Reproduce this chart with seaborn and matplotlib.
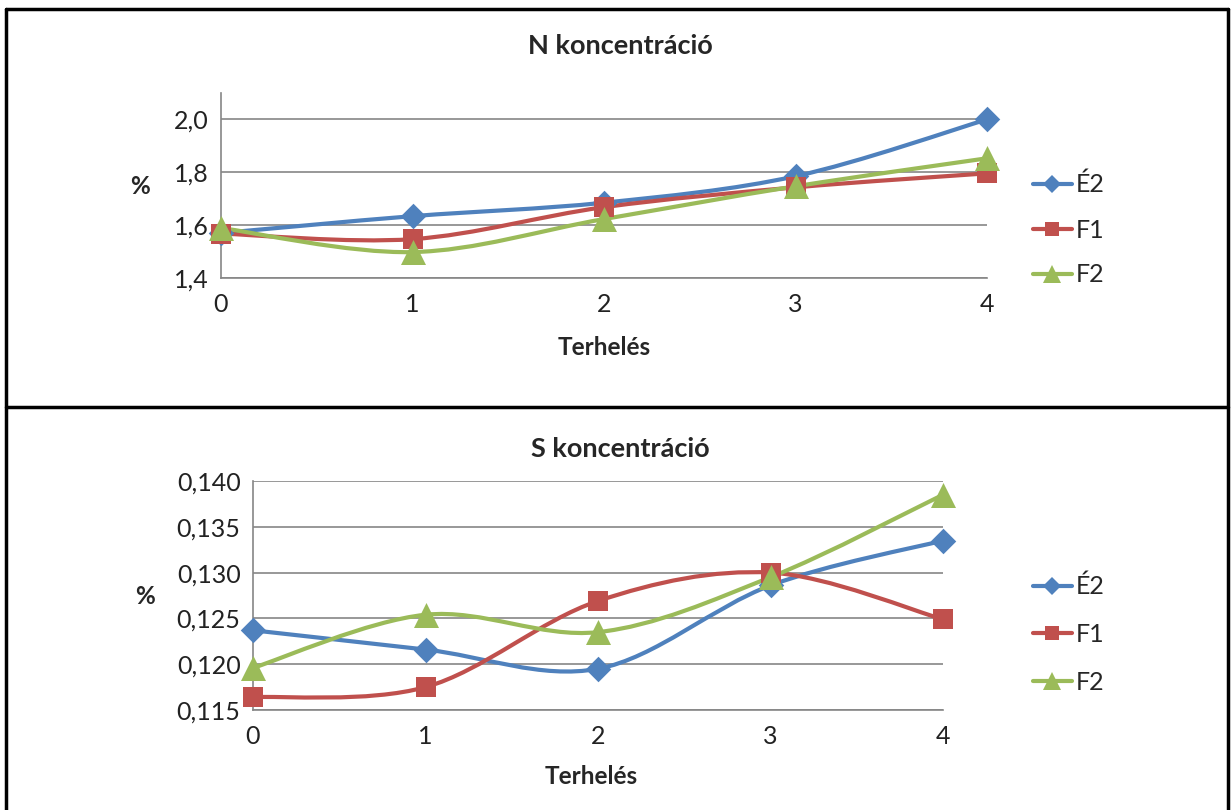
"""
N and S concentration charts (Excel style, smoothed lines)
"""
import matplotlib
matplotlib.use("Agg")
import matplotlib.pyplot as plt
from matplotlib.path import Path
from matplotlib.patches import PathPatch
from matplotlib.lines import Line2D
import pandas as pd
import seaborn as sns

# Data
terheles = [0, 1, 2, 3, 4]
series_names = ["É2", "F1", "F2"]

n_e2 = [1.57, 1.634, 1.685, 1.785, 2.0]
n_f1 = [1.568, 1.547, 1.668, 1.743, 1.796]
n_f2 = [1.589, 1.498, 1.623, 1.747, 1.853]

s_e2 = [0.1237, 0.1216, 0.1195, 0.1286, 0.1335]
s_f1 = [0.1164, 0.1175, 0.1269, 0.1300, 0.1249]
s_f2 = [0.1196, 0.1254, 0.1235, 0.1295, 0.1385]

n_yticks = [1.4, 1.6, 1.8, 2.0]
s_yticks = [0.115, 0.120, 0.125, 0.130, 0.135, 0.140]

colors = ["#4F81BD", "#C0504D", "#9BBB59"]
markers = ["D", "s", "^"]
marker_sizes = [13, 15, 18]

sns.set_style("white")
plt.rcParams["font.family"] = ["Lato", "DejaVu Sans"]


def smooth_path(xs, ys):
    """Bezier path through the points, like Excel's smoothed line"""
    pts = list(zip(xs, ys))
    verts = [pts[0]]
    codes = [Path.MOVETO]
    n = len(pts)
    for i in range(n - 1):
        p0 = pts[max(i - 1, 0)]
        p1 = pts[i]
        p2 = pts[i + 1]
        p3 = pts[min(i + 2, n - 1)]
        c1 = (p1[0] + (p2[0] - p0[0]) / 6, p1[1] + (p2[1] - p0[1]) / 6)
        c2 = (p2[0] - (p3[0] - p1[0]) / 6, p2[1] - (p3[1] - p1[1]) / 6)
        verts += [c1, c2, p2]
        codes += [Path.CURVE4] * 3
    return Path(verts, codes)


def draw_chart(ax, values, yticks, ylim, fmt, title, title_y, xlabel_xy,
               pct_xy, leg_y, leg_space):
    grid_c = "#868686"
    for yt in yticks:
        ax.axhline(yt, color=grid_c, lw=1.2, zorder=0)
    for i, (vals, name) in enumerate(zip(values, series_names)):
        patch = PathPatch(smooth_path(terheles, vals), facecolor="none",
                          edgecolor=colors[i], lw=3.0, zorder=2,
                          capstyle="round", joinstyle="round")
        ax.add_patch(patch)
        df = pd.DataFrame({"x": terheles, "y": vals})
        sns.scatterplot(data=df, x="x", y="y", ax=ax, marker=markers[i],
                        s=marker_sizes[i] ** 2, color=colors[i],
                        edgecolor=colors[i], linewidth=0, zorder=3 + i)
    ax.set_xlim(terheles[0], terheles[-1])
    ax.set_ylim(*ylim)
    ax.set_xticks(terheles)
    ax.set_xticklabels([str(t) for t in terheles])
    ax.set_yticks(yticks)
    ax.set_yticklabels([fmt(v) for v in yticks])
    for side in ["top", "right"]:
        ax.spines[side].set_visible(False)
    for side in ["left", "bottom"]:
        ax.spines[side].set_color(grid_c)
        ax.spines[side].set_linewidth(1.2)
    ax.tick_params(axis="both", colors="#222222", labelsize=18,
                   length=7, width=1.2, direction="out")
    ax.tick_params(axis="x", color=grid_c, pad=4)
    ax.tick_params(axis="y", color=grid_c, length=5, pad=4)
    ax.set_xlabel("")
    ax.set_ylabel("")
    for coll in ax.collections:
        coll.set_clip_on(False)
    for p in ax.patches:
        p.set_clip_on(False)

    fig = ax.figure
    fig.text(620 / 1232, 1 - title_y / 810, title, ha="center", va="center",
             fontsize=19.5, fontweight="bold")
    fig.text(xlabel_xy[0] / 1232, 1 - xlabel_xy[1] / 810, "Terhelés",
             ha="center", va="center", fontsize=17.5, fontweight="bold")
    fig.text(pct_xy[0] / 1232, 1 - pct_xy[1] / 810, "%", ha="center",
             va="center", fontsize=17.5, fontweight="bold")

    handles = [Line2D([0], [0], color=colors[i], lw=3.0, marker=markers[i],
                      markersize=marker_sizes[i] * 0.7, markeredgewidth=0)
               for i in range(3)]
    fig.legend(handles, series_names, loc="upper left",
               bbox_to_anchor=(1033 / 1232, 1 - leg_y / 810), frameon=False,
               fontsize=18, handlelength=1.55, labelspacing=leg_space,
               handletextpad=0.15, borderpad=0, borderaxespad=0)


fig = plt.figure(figsize=(12.32, 8.10), dpi=100)

ax_n = fig.add_axes([221 / 1232, 1 - 278 / 810, 766 / 1232, 185 / 810])
draw_chart(ax_n, [n_e2, n_f1, n_f2], n_yticks, (1.4, 2.1),
           lambda v: f"{v:.1f}".replace(".", ","), "N koncentráció",
           46, (604, 347), (140, 186), 173, 0.88)

ax_s = fig.add_axes([253 / 1232, 1 - 710 / 810, 690 / 1232, 229 / 810])
draw_chart(ax_s, [s_e2, s_f1, s_f2], s_yticks, (0.115, 0.140),
           lambda v: f"{v:.3f}".replace(".", ","), "S koncentráció",
           449, (591, 776), (145, 597), 575, 0.98)

# panel borders
border = dict(color="black", lw=2.5, transform=fig.transFigure)
fig.add_artist(Line2D([6 / 1232, 1228 / 1232], [1 - 9 / 810, 1 - 9 / 810], **border))
fig.add_artist(Line2D([6 / 1232, 1228 / 1232], [1 - 407 / 810, 1 - 407 / 810], **border))
fig.add_artist(Line2D([6 / 1232, 6 / 1232], [0, 1 - 9 / 810], **border))
fig.add_artist(Line2D([1228 / 1232, 1228 / 1232], [0, 1 - 9 / 810], **border))

fig.savefig("out.png", dpi=100, facecolor="white")
